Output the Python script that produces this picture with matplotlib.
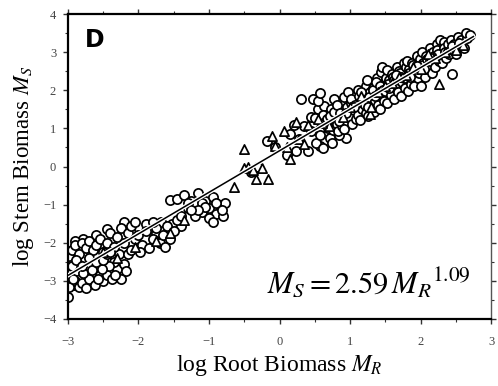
import numpy as np
import matplotlib.pyplot as plt
import matplotlib.patheffects as pe

plt.rcParams['font.family'] = 'Liberation Serif'
plt.rcParams['mathtext.fontset'] = 'stix'

# circles: log root biomass vs log stem biomass
circ_x = [-3.0, -2.98, -2.95, -2.92, -2.97, -2.9, -2.88, -2.85, -2.8, -2.75, -2.7, -2.62, -2.55, -2.5,
          -2.45, -2.38, -2.3, -2.25, -2.2, -2.35, -2.42,
          -2.99, -2.99, -2.93, -2.86, -2.78, -2.66, -2.58, -2.52, -2.33, -2.18, -2.28, -2.15,
          -2.6, -2.45, -2.78, -2.98, -2.9, -2.2, -2.1, -1.9, -1.75, -1.68, -1.52, -1.4,
          -2.95, -2.9, -2.85, -2.8, -2.75, -2.7, -2.65, -2.6, -2.55, -2.5, -2.45, -2.4, -2.35, -2.3,
          -2.25, -2.2, -2.15, -2.1, -2.05,
          -2.95, -2.88, -2.8, -2.7, -2.6, -2.5, -2.45, -2.4,
          -2.1, -2.0, -1.95, -1.9, -1.85, -1.8, -1.75, -1.7, -1.65, -1.6, -1.55, -1.5, -1.45, -2.05,
          -1.8, -1.98, -1.62,
          -1.55, -1.45, -1.35, -1.25, -1.3, -1.2, -1.15, -1.1, -1.05, -1.0, -0.95, -0.9, -0.85, -0.8,
          -0.78, -1.0, -1.2, -1.4, -0.95, -1.1, -0.9, -1.3, -1.05, -0.82, -1.15, -1.25,
          -0.4, -0.3,
          -0.18, -0.06, 0.24, 0.41, 0.58, 0.27, 0.45, 0.6, 0.79, 0.94, 0.79, 0.44, 0.31, 0.48, 0.55,
          0.15, 0.35, 0.1, 0.2,
          0.52, 0.57, 0.51, 0.63, 0.58, 0.66, 0.54, 0.61, 0.69, 0.62, 0.58, 0.71, 0.67, 0.73,
          0.76, 0.72, 0.78, 0.74, 0.81, 0.77, 0.84, 0.83, 0.87, 0.82, 0.89, 0.86, 0.91,
          0.93, 0.96, 0.92, 0.98, 1.01, 0.97, 1.03, 1.06, 1.02, 1.08, 1.11, 1.07, 1.12,
          1.14, 1.17, 1.13, 1.19, 1.22, 1.18, 1.23, 1.26, 1.21, 1.28, 1.24, 1.31, 1.27, 1.33,
          1.34, 1.36, 1.32, 1.38, 1.39, 1.41, 1.37, 1.43, 1.46, 1.42, 1.44, 1.48, 1.47, 1.45, 1.51,
          1.53, 1.49, 1.56, 1.52, 1.58, 1.54, 1.59, 1.62, 1.64, 1.61, 1.66, 1.68, 1.63, 1.69,
          1.72, 1.74, 1.71, 1.76, 1.78, 1.73, 1.79, 1.82, 1.77, 1.84, 1.81, 1.87, 1.83, 1.88,
          1.91, 1.93, 1.89, 1.95, 1.97, 1.92, 1.99, 2.01, 1.98, 2.03, 2.02, 2.06, 2.04, 2.08,
          2.11, 2.09, 2.13, 2.16, 2.14, 2.18, 2.21, 2.19, 2.23, 2.26, 2.24, 2.28, 2.31, 2.29, 2.33,
          2.36, 2.34, 2.41, 2.39, 2.44, 2.46, 2.43, 2.51, 2.48, 2.56, 2.53, 2.61, 2.58, 2.66, 2.64, 2.7,
          1.15, 1.25, 1.35, 1.55, 1.65, 1.85, 1.95, 2.05, 2.15, 2.25, 2.35, 0.95, 1.05, 0.85, 2.45, 2.55]
circ_y = [-3.42, -3.0, -2.9, -3.1, -2.8, -3.0, -2.75, -3.15, -3.05, -3.2, -2.95, -3.1, -2.85, -3.0,
          -2.85, -2.95, -2.7, -2.95, -2.55, -2.5, -2.6,
          -2.7, -3.15, -2.95, -2.55, -2.8, -2.72, -2.95, -2.7, -2.85, -2.75, -2.3, -2.3,
          -1.8, -1.65, -1.9, -2.35, -1.95, -1.45, -1.75, -1.5, -1.75, -1.45, -1.5, -1.55,
          -2.2, -2.05, -2.3, -2.0, -2.15, -1.95, -2.2, -2.05, -1.9, -2.25, -2.0, -1.75, -2.1, -1.85,
          -1.6, -2.0, -1.75, -1.55, -1.9,
          -2.6, -2.45, -2.6, -2.4, -2.5, -2.45, -2.3, -2.25,
          -2.2, -1.8, -2.05, -1.7, -2.15, -1.9, -1.6, -2.0, -1.8, -1.55, -1.9, -1.7, -1.4, -1.45,
          -1.45, -2.25, -2.1,
          -0.87, -0.85, -0.75, -0.9, -1.1, -1.0, -0.7, -1.2, -0.9, -1.1, -0.8, -1.25, -1.0, -1.3,
          -0.95, -1.35, -1.3, -1.3, -1.45, -0.95, -0.95, -0.95, -1.05, -1.15, -1.15, -1.15,
          -0.15, 0.0,
          0.66, 0.5, 0.4, 0.4, 0.53, 0.71, 0.92, 1.32, 0.89, 0.76, 1.05, 1.3, 1.76, 1.76, 1.5,
          0.85, 1.05, 0.3, 1.1,
          0.62, 0.98, 1.28, 1.58, 0.82, 1.12, 1.72, 0.48, 1.02, 1.36, 1.92, 0.74, 1.24, 1.52,
          0.97, 1.33, 1.76, 0.62, 1.12, 1.44, 0.82, 0.93, 1.26, 1.62, 1.07, 1.41, 1.83,
          1.19, 1.57, 0.98, 1.31, 1.66, 1.96, 1.12, 1.47, 1.77, 1.24, 1.36, 1.62, 2.02,
          1.21, 1.52, 1.86, 1.66, 1.41, 1.72, 2.12, 1.32, 1.61, 1.96, 2.26, 1.52, 1.82, 2.06,
          1.42, 1.71, 2.01, 2.32, 1.62, 1.92, 2.22, 1.52, 1.82, 2.12, 2.47, 1.72, 2.02, 2.6, 2.31,
          1.67, 1.97, 2.26, 2.52, 1.87, 2.16, 2.42, 1.77, 2.07, 2.36, 2.62, 1.96, 2.27, 2.51,
          1.86, 2.21, 2.46, 2.71, 2.06, 2.36, 2.61, 1.97, 2.31, 2.56, 2.76, 2.16, 2.46, 2.71,
          2.11, 2.41, 2.66, 2.91, 2.31, 2.56, 2.81, 2.12, 2.46, 2.71, 3.01, 2.36, 2.66, 2.91,
          2.56, 2.81, 3.11, 2.46, 2.76, 3.01, 2.61, 2.91, 3.21, 2.76, 3.06, 3.31, 2.71, 2.96, 3.26,
          2.86, 3.11, 2.96, 3.21, 2.42, 3.06, 3.31, 2.96, 3.21, 3.16, 3.41, 3.11, 3.31, 3.36, 3.51, 3.46,
          1.95, 1.55, 1.85, 2.05, 2.4, 2.35, 2.65, 2.55, 2.85, 2.95, 3.0, 1.4, 1.55, 1.2, 3.15, 3.25]

# triangles
tri_x = [0.9, 1.0, 1.15, 1.29, 1.3, 1.4, 1.5, 1.6, 1.7, 1.8, 1.9, 2.0, 2.1, 2.2, 2.26, 2.35, 2.5,
         2.6, 0.7, 0.6, 0.55,
         -0.51, -0.44, -0.33, -0.16, -0.65, -0.5, -0.38, -0.25, 0.06, -0.11, -0.06, 0.23, 0.27,
         0.1, 0.35, 0.4, 0.15,
         -2.5, -2.3, -2.05, -1.75, -1.55, -1.35]
tri_y = [1.3, 1.55, 1.85, 1.37, 1.55, 1.95, 2.1, 2.2, 2.35, 2.4, 2.6, 2.55, 2.95, 2.85, 2.16, 3.0,
         3.05, 3.2, 1.05, 1.15, 1.25,
         0.45, 0.0, -0.34, -0.34, -0.53, -0.05, -0.1, -0.05, 0.92, 0.79, 0.53, 1.16, 0.71,
         0.5, 0.6, 1.1, 0.2,
         -2.25, -2.4, -2.1, -1.95, -1.75, -1.4]

# fit: Ms = 2.59 Mr^1.09
fit_a = 2.59
fit_b = 1.09
fit_x = [-3.0, 2.75]

fig = plt.figure(figsize=(4.98, 3.86), dpi=100)
ax = fig.add_axes([0.1365, 0.1736, 0.8495, 0.79])

ax.scatter(circ_x, circ_y, s=44, marker='o', facecolors='white', edgecolors='black',
           linewidths=1.25, zorder=2)
ax.scatter(tri_x, tri_y, s=44, marker='^', facecolors='white', edgecolors='black',
           linewidths=1.25, zorder=3)
fx = np.array(fit_x)
ax.plot(fx, np.log10(fit_a) + fit_b * fx, color='black', lw=1.1, zorder=4,
        path_effects=[pe.withStroke(linewidth=3, foreground='white')])

ax.set_xlim(-3, 3)
ax.set_ylim(-4, 4)
ax.set_xticks(range(-3, 4))
ax.set_yticks(range(-4, 5))
ax.set_xticks(np.arange(-3, 3.01, 0.5), minor=True)
ax.set_yticks(np.arange(-4, 4.01, 0.5), minor=True)
ax.tick_params(which='both', direction='out', top=True, right=True, labelsize=9,
               labelcolor='#444444', color='#333333')
ax.tick_params(which='major', length=3.5, width=1.0)
ax.tick_params(which='minor', length=2, width=0.8)
ax.tick_params(axis='x', pad=9)
ax.tick_params(axis='y', pad=5)
for s in ['left', 'bottom', 'top']:
    ax.spines[s].set_linewidth(1.6)
ax.spines['right'].set_linewidth(1.0)
ax.spines['right'].set_color('#555555')

ax.set_xlabel(r'log Root Biomass $M_R$', fontsize=17, labelpad=3)
ax.set_ylabel(r'log Stem Biomass $M_S$', fontsize=16.5, labelpad=5)

ax.text(0.04, 0.955, 'D', transform=ax.transAxes, fontsize=17, fontweight='bold',
        family='DejaVu Sans', va='top', ha='left')
ax.text(0.47, 0.085, r'$M_S = 2.59\,{M_R}^{1.09}$', transform=ax.transAxes, fontsize=22,
        va='baseline', ha='left')

fig.savefig('out.png', dpi=100)
